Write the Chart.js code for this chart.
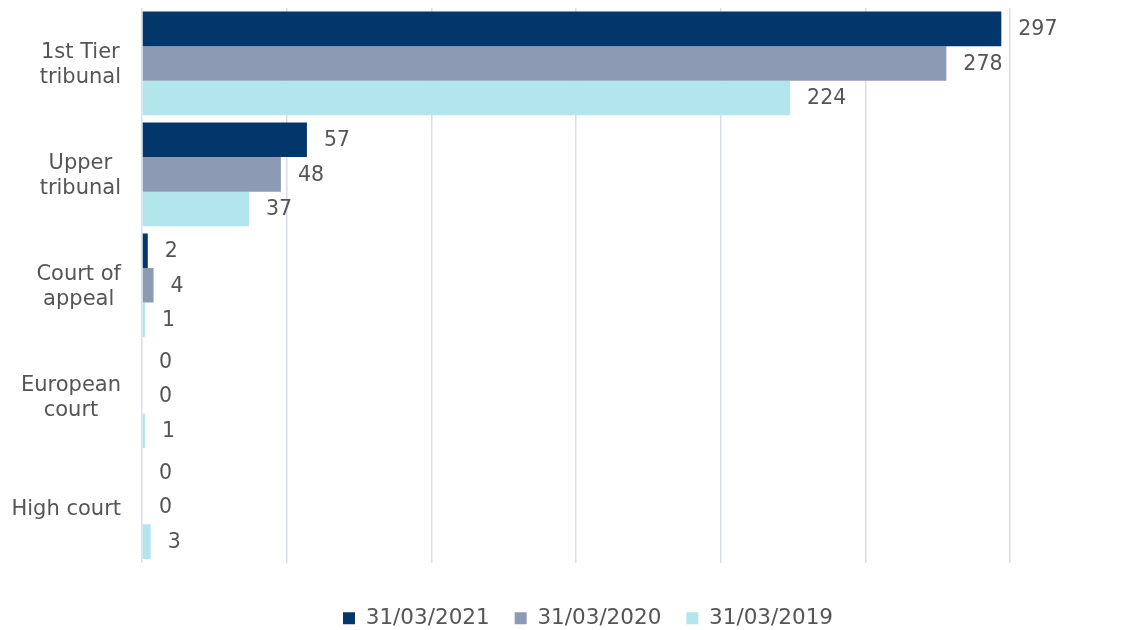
<!DOCTYPE html>
<html>
<head>
<meta charset="utf-8">
<script src="https://cdn.jsdelivr.net/npm/chart.js@4.4.1/dist/chart.umd.min.js"></script>
<style>
  body { margin: 0; background: #fff; }
  #wrap { width: 1145px; height: 630px; position: relative; }
</style>
</head>
<body>
<div id="wrap"><canvas id="courtChart"></canvas></div>
<script>
const categories = [
  ["1st Tier", "tribunal"],
  ["Upper", "tribunal"],
  ["Court of", "appeal"],
  ["European", "court"],
  ["High court"]
];
const seriesNames = ["31/03/2021", "31/03/2020", "31/03/2019"];
const values2021 = [297, 57, 2, 0, 0];
const values2020 = [278, 48, 4, 0, 0];
const values2019 = [224, 37, 1, 1, 3];
const seriesColors = ["#03366A", "#8C9BB3", "#B3E6EC"];

const FONT = "'DejaVu Sans', Verdana, sans-serif";
const TEXT = "#555555";

// category labels: each block right-aligned, lines centred within the block
const categoryLabels = {
  id: "categoryLabels",
  afterDraw(chart) {
    const ctx = chart.ctx;
    const yScale = chart.scales.y;
    const right = chart.chartArea.left - 21;
    ctx.save();
    ctx.font = "21px " + FONT;
    ctx.fillStyle = TEXT;
    ctx.textAlign = "center";
    ctx.textBaseline = "middle";
    categories.forEach((lines, i) => {
      const y = yScale.getPixelForTick(i) + 2;
      const blockW = Math.max(...lines.map(l => ctx.measureText(l).width));
      const cx = right - blockW / 2;
      lines.forEach((line, j) => {
        ctx.fillText(line, cx, y + (j - (lines.length - 1) / 2) * 25);
      });
    });
    ctx.restore();
  }
};

const valueLabels = {
  id: "valueLabels",
  afterDatasetsDraw(chart) {
    const ctx = chart.ctx;
    ctx.save();
    ctx.font = "20.5px " + FONT;
    ctx.fillStyle = TEXT;
    ctx.textAlign = "left";
    ctx.textBaseline = "middle";
    chart.data.datasets.forEach((ds, di) => {
      chart.getDatasetMeta(di).data.forEach((bar, i) => {
        ctx.fillText(String(ds.data[i]), bar.x + 17, bar.y + 1);
      });
    });
    ctx.restore();
  }
};

// the legend in the original sits a little right of the plot centre
const legendShift = {
  id: "legendShift",
  afterLayout(chart) {
    chart.legend.left += 24;
  }
};

new Chart(document.getElementById("courtChart"), {
  type: "bar",
  data: {
    labels: categories,
    datasets: [
      { label: seriesNames[0], data: values2021, backgroundColor: seriesColors[0] },
      { label: seriesNames[1], data: values2020, backgroundColor: seriesColors[1] },
      { label: seriesNames[2], data: values2019, backgroundColor: seriesColors[2] }
    ]
  },
  options: {
    indexAxis: "y",
    responsive: true,
    maintainAspectRatio: false,
    animation: false,
    layout: { padding: { left: 142, right: 135, top: 8, bottom: -9 } },
    datasets: {
      bar: { barPercentage: 1, categoryPercentage: 0.935 }
    },
    scales: {
      x: {
        min: 0,
        max: 300,
        ticks: { stepSize: 50, display: false },
        grid: { color: "#D9DEE7", lineWidth: 1.5, drawTicks: true, tickLength: 20, tickColor: "rgba(0,0,0,0)" },
        border: { display: false }
      },
      y: {
        ticks: { display: false },
        grid: { display: false, drawTicks: false },
        border: { display: false }
      }
    },
    plugins: {
      legend: {
        position: "bottom",
        labels: {
          font: { family: FONT, size: 21.5 },
          color: TEXT,
          boxWidth: 12,
          boxHeight: 12,
          padding: 25
        }
      },
      tooltip: { enabled: false }
    }
  },
  plugins: [categoryLabels, valueLabels, legendShift]
});
</script>
</body>
</html>
